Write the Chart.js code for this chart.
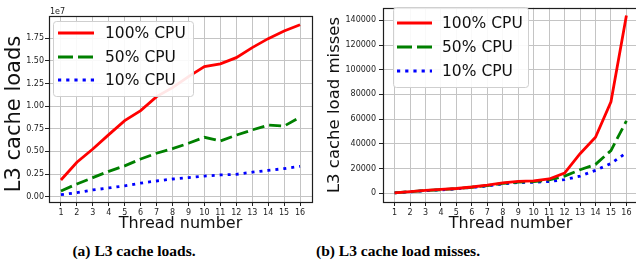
<!DOCTYPE html>
<html><head><meta charset="utf-8">
<script src="https://cdn.jsdelivr.net/npm/chart.js@4/dist/chart.umd.min.js"></script>
<style>
html,body{margin:0;padding:0;background:#fff;width:636px;height:263px;overflow:hidden;position:relative}
canvas{position:absolute;top:0}
#c1{left:0}
#c2{left:318px}
.cap{position:absolute;top:242.7px;font:bold 15.5px 'Liberation Serif',serif;line-height:15.5px;white-space:nowrap;transform:translateX(-50%);color:#000}
</style></head><body>
<canvas id="c1" width="318" height="232"></canvas>
<canvas id="c2" width="322" height="232"></canvas>
<div class="cap" style="left:134px">(a) L3 cache loads.</div>
<div class="cap" style="left:398px">(b) L3 cache load misses.</div>
<script>
// ---------- data ----------
const threads = [1,2,3,4,5,6,7,8,9,10,11,12,13,14,15,16];
const seriesLabels = ['100% CPU','50% CPU','10% CPU'];

// (a) L3 cache loads (raw counts)
const loads100 = [1840000,3800000,5270000,6850000,8400000,9500000,11050000,12050000,13260000,14370000,14670000,15360000,16470000,17460000,18300000,19000000];
const loads50  = [630000,1400000,2100000,2800000,3400000,4160000,4800000,5300000,5900000,6560000,6150000,6800000,7370000,7900000,7800000,8770000];
const loads10  = [220000,440000,740000,960000,1200000,1500000,1730000,1950000,2100000,2280000,2400000,2470000,2700000,2900000,3100000,3350000];

// (b) L3 cache load misses
const misses100 = [300,1300,2300,3000,3800,5000,6500,8300,9500,9900,11500,16200,32000,45300,74000,144000];
const misses50  = [300,1200,2100,2800,3600,4800,6100,7900,8900,9300,10700,13800,19000,23300,34500,58500];
const misses10  = [200,1100,2000,2700,3500,4600,5800,7500,8600,8800,9400,11000,13800,18500,24000,32800];

const loadsTicks  = [0,2500000,5000000,7500000,10000000,12500000,15000000,17500000];
const missesTicks = [0,20000,40000,60000,80000,100000,120000,140000];

// ---------- helpers ----------
const FONT = '"DejaVu Sans", sans-serif';
const styles = [
  {color:'#ff0000', dash:[], legendDash:[]},
  {color:'#008000', dash:[12,5], legendDash:[15,5]},
  {color:'#0000ff', dash:[3,5], legendDash:[3.2,5]}
];
const toXY = arr => arr.map((v,i)=>({x:threads[i], y:v}));

const framePlugin = {
  id:'frame',
  afterDatasetsDraw(chart){
    const {ctx, chartArea:a} = chart;
    ctx.save();
    ctx.strokeStyle = '#1e1e1e'; ctx.lineWidth = 1.2;
    ctx.strokeRect(Math.round(a.left)+0.5, Math.round(a.top)+0.5, Math.round(a.right-a.left), Math.round(a.bottom-a.top));
    ctx.restore();
  }
};
const extrasPlugin = {
  id:'extras',
  afterDraw(chart, args, o){
    const ctx = chart.ctx;
    ctx.save();
    // y title
    ctx.translate(o.yTitle.x, o.yTitle.y);
    ctx.rotate(-Math.PI/2);
    ctx.font = o.yTitle.size + 'px ' + FONT;
    ctx.fillStyle = '#111'; ctx.textAlign='center'; ctx.textBaseline='middle';
    ctx.fillText(o.yTitle.text, 0, 0);
    ctx.restore();
    if (o.offsetText){
      ctx.save();
      ctx.font = '8px ' + FONT; ctx.fillStyle='#222'; ctx.textAlign='left'; ctx.textBaseline='alphabetic';
      ctx.fillText(o.offsetText.text, o.offsetText.x, o.offsetText.y);
      ctx.restore();
    }
    // legend
    const L = o.legend;
    ctx.save();
    ctx.beginPath();
    ctx.roundRect(L.x+0.5, L.y+0.5, L.w, L.h, 3);
    ctx.fillStyle='rgba(255,255,255,0.9)'; ctx.fill();
    ctx.strokeStyle='#cfcfcf'; ctx.lineWidth=1; ctx.stroke();
    chart.data.datasets.forEach((ds,i)=>{
      const y = L.y + L.rows[i];
      ctx.beginPath();
      ctx.setLineDash(styles[i].legendDash);
      ctx.lineCap='butt'; ctx.strokeStyle=ds.borderColor; ctx.lineWidth=3;
      ctx.moveTo(L.x+L.h0, y); ctx.lineTo(L.x+L.h1, y); ctx.stroke();
      ctx.setLineDash([]);
      ctx.fillStyle='#111'; ctx.font = L.size + 'px ' + FONT; ctx.textAlign='left'; ctx.textBaseline='middle';
      ctx.fillText(ds.label, L.x+L.tx, y+1);
    });
    ctx.restore();
  }
};

function makeChart(id, series, yTicks, yMin, yMax, fmt, cfg){
  return new Chart(document.getElementById(id), {
    type:'line',
    data:{ datasets: series.map((s,i)=>({
      label: seriesLabels[i], data: toXY(s),
      borderColor: styles[i].color, borderDash: styles[i].dash, borderWidth: 2.8,
      borderCapStyle:'butt', pointRadius:0, tension:0, fill:false
    }))},
    options:{
      responsive:false, animation:false, events:[],
      layout:{padding:cfg.pad},
      plugins:{ legend:{display:false}, tooltip:{enabled:false}, extras:cfg.extras },
      scales:{
        x:{ type:'linear', min:0.25, max:16.75,
            afterBuildTicks: s => { s.ticks = threads.map(v=>({value:v})); },
            afterFit: s => { s.height = cfg.xH; },
            grid:{color:'#c4c4c4', lineWidth:1, tickLength:4, tickColor:'#222', drawTicks:true},
            border:{display:false},
            ticks:{font:{family:FONT,size:8}, color:'#222', padding:2, maxRotation:0, autoSkip:false, callback: v => String(v)},
            title:{display:true, text:'Thread number', font:{family:FONT,size:16,lineHeight:1}, color:'#111', padding:{top:0,bottom:cfg.xTitlePad}}
        },
        y:{ type:'linear', min:yMin, max:yMax,
            afterBuildTicks: s => { s.ticks = yTicks.map(v=>({value:v})); },
            afterFit: s => { s.width = cfg.yW; },
            grid:{color:'#c4c4c4', lineWidth:1, tickLength:4, tickColor:'#222', drawTicks:true},
            border:{display:false},
            ticks:{font:{family:FONT,size:8}, color:'#222', padding:cfg.yTickPad, callback: fmt}
        }
      }
    },
    plugins:[framePlugin, extrasPlugin]
  });
}

makeChart('c1', [loads100, loads50, loads10], loadsTicks, -590000, 19960000,
  v => (v/1e7).toFixed(2),
  { pad:{top:16,right:6,bottom:0,left:0}, xH:30, yW:49, yTickPad:1, xTitlePad:0.5,
    extras:{ yTitle:{text:'L3 cache loads', x:15, y:114, size:21},
             offsetText:{text:'1e7', x:50, y:14},
             legend:{x:53, y:21, w:140, h:75, rows:[12,36,59], h0:5, h1:41, tx:52, size:15.5} } });

makeChart('c2', [misses100, misses50, misses10], missesTicks, -7150, 150150,
  v => String(v),
  { pad:{top:4,right:2,bottom:0,left:0}, xH:30, yW:65, yTickPad:3, xTitlePad:0.5,
    extras:{ yTitle:{text:'L3 cache load misses', x:17, y:105, size:16.5},
             legend:{x:75, y:7, w:135, h:80, rows:[16,40,64], h0:4, h1:39, tx:49, size:15.5} } });
</script>
</body></html>
